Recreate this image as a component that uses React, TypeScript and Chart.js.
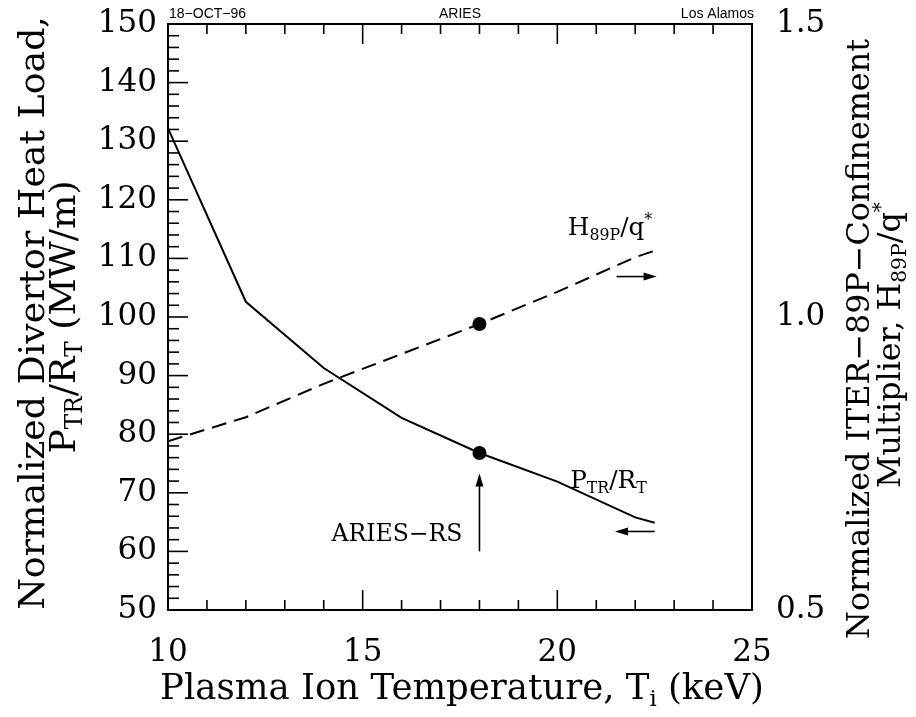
import React, { useEffect, useRef } from "react";
import { Chart, registerables } from "chart.js";

Chart.register(...registerables);

// ---------- data ----------
const temperatures = [10, 12, 14, 16, 18, 20, 22, 22.5];
const heatLoad = [132.2, 102.6, 91.3, 82.8, 76.8, 71.9, 65.8, 64.9];
const confinementMultiplier = [0.788, 0.829, 0.886, 0.937, 0.988, 1.043, 1.102, 1.113];
const ariesTemperature = [18];
const ariesHeatLoad = [76.8];
const ariesMultiplier = [0.988];
const xTickLabels = [10, 15, 20, 25];
const yLeftTickLabels = [50, 60, 70, 80, 90, 100, 110, 120, 130, 140, 150];
const yRightTickLabels = [0.5, 1.0, 1.5];

const headerLeft = "18\u2212OCT\u221296";
const headerCenter = "ARIES";
const headerRight = "Los Alamos";

const SERIF = '"DejaVu Serif", serif';
const SANS = '"Liberation Sans", Arial, sans-serif';

type Seg = { t: string; s?: "sub" | "sup" };

const xTitle: Seg[] = [{ t: "Plasma Ion Temperature, T" }, { t: "i", s: "sub" }, { t: " (keV)" }];
const yLeftTitle1: Seg[] = [{ t: "Normalized Divertor Heat Load," }];
const yLeftTitle2: Seg[] = [{ t: "P" }, { t: "TR", s: "sub" }, { t: "/R" }, { t: "T", s: "sub" }, { t: " (MW/m)" }];
const yRightTitle1: Seg[] = [{ t: "Normalized ITER\u221289P\u2212Confinement" }];
const yRightTitle2: Seg[] = [{ t: "Multiplier, H" }, { t: "89P", s: "sub" }, { t: "/q" }, { t: "*", s: "sup" }];
const pLabel: Seg[] = [{ t: "P" }, { t: "TR", s: "sub" }, { t: "/R" }, { t: "T", s: "sub" }];
const hLabel: Seg[] = [{ t: "H" }, { t: "89P", s: "sub" }, { t: "/q" }, { t: "*", s: "sup" }];
const ariesLabel: Seg[] = [{ t: "ARIES\u2212RS" }];

// annotation anchors in data units (x: keV, y: left axis)
const ariesArrow = { x: 18, yFrom: 60.0, yTo: 73.3 };
const ariesText = { x: 14.2, y: 61.8 };
const pText = { x: 20.33, y: 70.8 };
const pArrow = { xFrom: 22.5, xTo: 21.48, y: 63.4 };
const hText = { x: 20.27, y: 114.0 };
const hArrow = { xFrom: 21.52, xTo: 22.55, y: 106.9 };

function segSize(size: number, s?: string) {
  return s ? size * 0.64 : size;
}
function segOffset(size: number, s?: string) {
  if (s === "sub") return size * 0.2;
  if (s === "sup") return -size * 0.42;
  return 0;
}
function measureRich(ctx: CanvasRenderingContext2D, segs: Seg[], size: number) {
  let w = 0;
  for (const sg of segs) {
    ctx.font = `${segSize(size, sg.s)}px ${SERIF}`;
    w += ctx.measureText(sg.t).width;
  }
  return w;
}
function drawRich(
  ctx: CanvasRenderingContext2D,
  segs: Seg[],
  x: number,
  y: number,
  size: number,
  align: "left" | "center" | "right"
) {
  const w = measureRich(ctx, segs, size);
  let cx = align === "left" ? x : align === "center" ? x - w / 2 : x - w;
  ctx.textAlign = "left";
  ctx.textBaseline = "alphabetic";
  for (const sg of segs) {
    ctx.font = `${segSize(size, sg.s)}px ${SERIF}`;
    ctx.fillText(sg.t, cx, y + segOffset(size, sg.s));
    cx += ctx.measureText(sg.t).width;
  }
}
function fitSize(ctx: CanvasRenderingContext2D, segs: Seg[], width: number) {
  const w = measureRich(ctx, segs, 100);
  return (100 * width) / w;
}
function arrow(ctx: CanvasRenderingContext2D, x1: number, y1: number, x2: number, y2: number) {
  const ang = Math.atan2(y2 - y1, x2 - x1);
  const hl = 13;
  const hw = 4;
  ctx.beginPath();
  ctx.moveTo(x1, y1);
  ctx.lineTo(x2 - Math.cos(ang) * hl * 0.8, y2 - Math.sin(ang) * hl * 0.8);
  ctx.lineWidth = 1.6;
  ctx.stroke();
  ctx.beginPath();
  ctx.moveTo(x2, y2);
  ctx.lineTo(x2 - Math.cos(ang) * hl - Math.sin(ang) * hw, y2 - Math.sin(ang) * hl + Math.cos(ang) * hw);
  ctx.lineTo(x2 - Math.cos(ang) * hl + Math.sin(ang) * hw, y2 - Math.sin(ang) * hl - Math.cos(ang) * hw);
  ctx.closePath();
  ctx.fill();
}

const decorPlugin = {
  id: "decor",
  afterDraw(chart: any) {
    const ctx: CanvasRenderingContext2D = chart.ctx;
    const { left, right, top, bottom } = chart.chartArea;
    const xs = chart.scales.x;
    const ys = chart.scales.y;
    ctx.save();
    ctx.strokeStyle = "#000";
    ctx.fillStyle = "#000";
    ctx.setLineDash([]);

    // frame
    ctx.lineWidth = 2;
    ctx.strokeRect(left, top, right - left, bottom - top);

    // x ticks (bottom and top), inward
    ctx.lineWidth = 1.6;
    const xmin = xTickLabels[0];
    const xmax = xTickLabels[xTickLabels.length - 1];
    for (let t = xmin; t <= xmax; t += 1) {
      const px = xs.getPixelForValue(t);
      const len = t % 5 === 0 ? 20 : 10;
      ctx.beginPath();
      ctx.moveTo(px, bottom);
      ctx.lineTo(px, bottom - len);
      ctx.moveTo(px, top);
      ctx.lineTo(px, top + len);
      ctx.stroke();
    }
    // left ticks
    const ymin = yLeftTickLabels[0];
    const ymax = yLeftTickLabels[yLeftTickLabels.length - 1];
    for (let v = ymin; v <= ymax; v += 2) {
      const py = ys.getPixelForValue(v);
      const len = v % 10 === 0 ? 20 : 11;
      ctx.beginPath();
      ctx.moveTo(left, py);
      ctx.lineTo(left + len, py);
      ctx.stroke();
    }

    // header
    ctx.font = `14px ${SANS}`;
    ctx.textBaseline = "alphabetic";
    ctx.textAlign = "left";
    ctx.fillText(headerLeft, left + 1, 18);
    ctx.textAlign = "center";
    ctx.fillText(headerCenter, (left + right) / 2, 18);
    ctx.textAlign = "right";
    ctx.fillText(headerRight, right + 2, 18);

    // axis titles
    const leftSize = fitSize(ctx, yLeftTitle1, 594);
    const rightSize = fitSize(ctx, yRightTitle1, 600);
    const xSize = fitSize(ctx, xTitle, 604);
    drawRich(ctx, xTitle, 462, 699, xSize, "center");
    // left title (rotated)
    ctx.save();
    ctx.translate(44, 313);
    ctx.rotate(-Math.PI / 2);
    drawRich(ctx, yLeftTitle1, 0, 0, leftSize, "center");
    drawRich(ctx, yLeftTitle2, -4, 31, leftSize, "center");
    ctx.restore();
    // right title (rotated)
    ctx.save();
    ctx.translate(869, 339);
    ctx.rotate(-Math.PI / 2);
    drawRich(ctx, yRightTitle1, 0, 0, rightSize, "center");
    drawRich(ctx, yRightTitle2, -6, 31, rightSize, "center");
    ctx.restore();

    // annotations
    const labelSize = fitSize(ctx, ariesLabel, 131);
    drawRich(ctx, ariesLabel, xs.getPixelForValue(ariesText.x), ys.getPixelForValue(ariesText.y), labelSize, "left");
    drawRich(ctx, pLabel, xs.getPixelForValue(pText.x), ys.getPixelForValue(pText.y), labelSize * 1.05, "left");
    drawRich(ctx, hLabel, xs.getPixelForValue(hText.x), ys.getPixelForValue(hText.y), labelSize * 1.05, "left");

    arrow(
      ctx,
      xs.getPixelForValue(ariesArrow.x),
      ys.getPixelForValue(ariesArrow.yFrom),
      xs.getPixelForValue(ariesArrow.x),
      ys.getPixelForValue(ariesArrow.yTo)
    );
    arrow(
      ctx,
      xs.getPixelForValue(pArrow.xFrom),
      ys.getPixelForValue(pArrow.y),
      xs.getPixelForValue(pArrow.xTo),
      ys.getPixelForValue(pArrow.y)
    );
    arrow(
      ctx,
      xs.getPixelForValue(hArrow.xFrom),
      ys.getPixelForValue(hArrow.y),
      xs.getPixelForValue(hArrow.xTo),
      ys.getPixelForValue(hArrow.y)
    );
    ctx.restore();
  },
};

export default function App() {
  const ref = useRef<HTMLCanvasElement | null>(null);
  useEffect(() => {
    if (!ref.current) return;
    const tickFont = { family: SERIF, size: 31 };
    const chart = new Chart(ref.current, {
      type: "line",
      data: {
        datasets: [
          {
            label: "P_TR/R_T",
            data: temperatures.map((t, i) => ({ x: t, y: heatLoad[i] })),
            yAxisID: "y",
            borderColor: "#000",
            borderWidth: 2,
            pointRadius: 0,
            fill: false,
            tension: 0,
          },
          {
            label: "H89P/q*",
            data: temperatures.map((t, i) => ({ x: t, y: confinementMultiplier[i] })),
            yAxisID: "y1",
            borderColor: "#000",
            borderWidth: 2,
            borderDash: [15, 8],
            pointRadius: 0,
            fill: false,
            tension: 0,
          },
          {
            label: "ARIES-RS heat load",
            data: ariesTemperature.map((t, i) => ({ x: t, y: ariesHeatLoad[i] })),
            yAxisID: "y",
            showLine: false,
            pointRadius: 7,
            pointBackgroundColor: "#000",
            pointBorderColor: "#000",
            borderWidth: 0,
          },
          {
            label: "ARIES-RS multiplier",
            data: ariesTemperature.map((t, i) => ({ x: t, y: ariesMultiplier[i] })),
            yAxisID: "y1",
            showLine: false,
            pointRadius: 7,
            pointBackgroundColor: "#000",
            pointBorderColor: "#000",
            borderWidth: 0,
          },
        ],
      },
      options: {
        animation: false,
        responsive: false,
        devicePixelRatio: 1,
        layout: { padding: { top: 24, left: 0, right: 0, bottom: 0 } },
        plugins: { legend: { display: false }, tooltip: { enabled: false } },
        scales: {
          x: {
            type: "linear",
            min: xTickLabels[0],
            max: xTickLabels[xTickLabels.length - 1],
            grid: { display: false, drawTicks: false },
            border: { display: false },
            ticks: {
              stepSize: 5,
              font: tickFont,
              color: "#000",
              padding: 24,
              maxRotation: 0,
              callback: (v: any) => (xTickLabels.includes(Number(v)) ? String(v) : ""),
            },
            afterFit: (s: any) => {
              s.height = 107;
              s.paddingLeft = 0;
              s.paddingRight = 0;
            },
          },
          y: {
            type: "linear",
            position: "left",
            min: yLeftTickLabels[0],
            max: yLeftTickLabels[yLeftTickLabels.length - 1],
            grid: { display: false, drawTicks: false },
            border: { display: false },
            ticks: {
              stepSize: 10,
              font: tickFont,
              color: "#000",
              padding: 11,
              callback: (v: any) => (yLeftTickLabels.includes(Number(v)) ? String(v) : ""),
            },
            afterFit: (s: any) => {
              s.width = 168;
              s.paddingTop = 0;
              s.paddingBottom = 0;
            },
          },
          y1: {
            type: "linear",
            position: "right",
            min: yRightTickLabels[0],
            max: yRightTickLabels[yRightTickLabels.length - 1],
            grid: { display: false, drawTicks: false },
            border: { display: false },
            ticks: {
              stepSize: 0.5,
              font: tickFont,
              color: "#000",
              padding: 24,
              callback: (v: any) => Number(v).toFixed(1),
            },
            afterFit: (s: any) => {
              s.width = 164;
              s.paddingTop = 0;
              s.paddingBottom = 0;
            },
          },
        },
      },
      plugins: [decorPlugin],
    });
    return () => chart.destroy();
  }, []);
  return (
    <canvas
      ref={ref}
      width={916}
      height={717}
      style={{ position: "fixed", left: 0, top: 0, width: 916, height: 717, background: "#fff" }}
    />
  );
}
